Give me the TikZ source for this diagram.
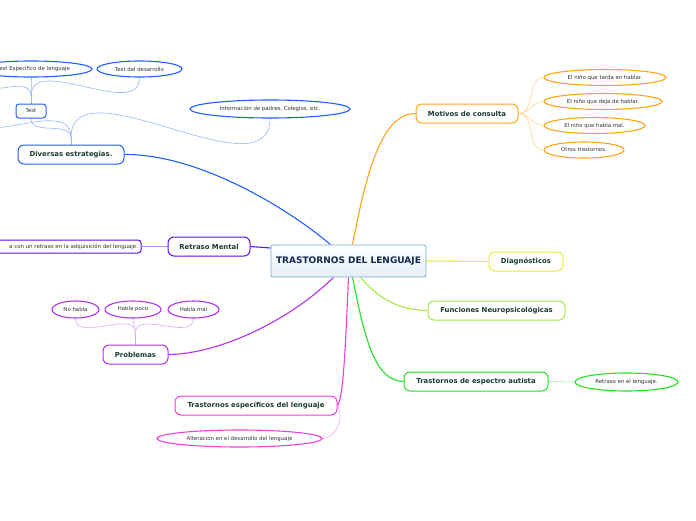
\documentclass[tikz,border=0pt]{standalone}
\usepackage{fontspec}
\setmainfont{DejaVu Sans}
\usetikzlibrary{shapes.geometric,backgrounds}
\definecolor{ctrborder}{HTML}{7AAAD0}
\definecolor{ctrfill}{HTML}{E4EEF8}
\definecolor{ctrtext}{HTML}{14284A}
\definecolor{toptext}{HTML}{1A3A36}
\definecolor{leaftext}{HTML}{333333}
\definecolor{corange}{HTML}{FFA31A}
\definecolor{corangel}{HTML}{FFD490}
\definecolor{cyellow}{HTML}{E8F030}
\definecolor{clgreen}{HTML}{A8E846}
\definecolor{cgreen}{HTML}{22E022}
\definecolor{cgreenl}{HTML}{98F098}
\definecolor{cmag}{HTML}{F040D8}
\definecolor{cmagl}{HTML}{F8A8F0}
\definecolor{cpurple}{HTML}{B030F0}
\definecolor{cpurplel}{HTML}{DCA8F8}
\definecolor{cviolet}{HTML}{5A10F0}
\definecolor{cvioletl}{HTML}{A890F8}
\definecolor{cblue}{HTML}{2060FF}
\definecolor{cbluel}{HTML}{98B4FF}
\begin{document}
\begin{tikzpicture}[x=1pt,y=-1pt,
  topic/.style={draw=#1, rounded corners=6pt, line width=1pt, fill=white,
    font=\fontsize{6.9}{8}\selectfont\bfseries, text=toptext, minimum height=19pt, inner xsep=0pt, inner ysep=0pt},
  leaf/.style={draw=#1, ellipse, line width=1.1pt, fill=white,
    font=\fontsize{5.4}{6}\selectfont, text=leaftext, minimum height=16pt, inner sep=0pt},
  mainline/.style={draw=#1, line width=1.1pt},
  subline/.style={draw=#1, line width=0.6pt}]
\useasboundingbox (0,0) rectangle (696,520);

\coordinate (dj) at (71,138);
\coordinate (tj) at (31,96);
\coordinate (pj) at (135.5,333);
\coordinate (dfree) at (-10,128);
\coordinate (tfree) at (-10,89);

% ---------- nodes ----------
\node[draw=ctrborder, line width=0.8pt, rounded corners=2pt, top color=white, bottom color=ctrfill,
  minimum width=155pt, minimum height=32pt, inner sep=0pt,
  font=\fontsize{9}{10}\selectfont\bfseries, text=ctrtext] (ctr) at (348.5,261) {TRASTORNOS DEL LENGUAJE};

\node[topic=corange, minimum width=102pt] (mot) at (467,113.5) {Motivos de consulta};
\node[leaf=corange, minimum width=122pt] (m1) at (605,77.5) {El niño que tarda en hablar.};
\node[leaf=corange, minimum width=118pt] (m2) at (603,101.5) {El niño que deja de hablar.};
\node[leaf=corange, minimum width=101pt] (m3) at (594.5,125.5) {El niño que habla mal.};
\node[leaf=corange, minimum width=80pt] (m4) at (584,150) {Otros trastornos.};

\node[topic=cyellow, minimum width=74pt] (dia) at (526,261.5) {Diagnósticos};
\node[topic=clgreen, minimum width=137pt] (fun) at (496.5,310.5) {Funciones Neuropsicológicas};
\node[topic=cgreen, minimum width=144pt] (aut) at (476,381.5) {Trastornos de espectro autista};
\node[leaf=cgreen, minimum width=103pt, minimum height=18pt] (ret) at (626.5,382) {Retraso en el lenguaje.};

\node[topic=cmag, minimum width=162pt] (tes) at (256,405.5) {Trastornos específicos del lenguaje};
\node[leaf=cmag, minimum width=165pt, minimum height=17pt] (alt) at (239.5,438.5) {Alteración en el desarrollo del lenguaje};

\node[topic=cpurple, minimum width=65pt] (prob) at (135.5,354.5) {Problemas};
\node[leaf=cpurple, minimum width=47pt, minimum height=17pt] (nh) at (75.5,309.5) {No habla};
\node[leaf=cpurple, minimum width=56pt, minimum height=17pt] (hp) at (133,309.5) {Habla poco};
\node[leaf=cpurple, minimum width=51pt, minimum height=17pt] (hm) at (193.5,309.5) {Habla mal};

\node[topic=cviolet, minimum width=82pt] (rm) at (209,246.5) {Retraso Mental};
\node[draw=cviolet, line width=1pt, rounded corners=3pt, fill=white, minimum height=13pt, inner ysep=0pt,
  text width=174pt, align=right, inner xsep=3pt, font=\fontsize{5.4}{6}\selectfont, text=leaftext]
  (rml) at (51,246.5) {a con un retraso en la adquisición del lenguaje.};

\node[topic=cblue, minimum width=106pt] (div) at (71,154.5) {Diversas estrategias.};
\node[draw=cblue, line width=1pt, rounded corners=3pt, fill=white, minimum width=30pt, minimum height=14pt,
  inner sep=0pt, font=\fontsize{5.4}{6}\selectfont, text=leaftext] (test) at (31,111) {Test};
\node[leaf=cblue, minimum width=160pt, minimum height=18pt] (inf) at (270,109) {Información de padres, Colegios, etc.};
\node[leaf=cblue, minimum width=122pt, text width=78pt, align=right] (tesp) at (31,69) {est Específico de lenguaje};
\node[leaf=cblue, minimum width=85pt] (tdes) at (139.5,69) {Test del desarrollo};

% ---------- connectors ----------
\begin{scope}[on background layer]
\path[mainline=corange] ([xshift=4pt]ctr.north) .. controls (365,180) and (380,113) .. (mot.west);
\path[mainline=cyellow] (ctr.east) -- (dia.west);
\path[mainline=clgreen] ([xshift=12pt]ctr.south) .. controls (380,300) and (400,310) .. (fun.west);
\path[mainline=cgreen] ([xshift=4pt]ctr.south) .. controls (365,340) and (375,381) .. (aut.west);
\path[mainline=cmag] (ctr.south) .. controls (346,330) and (344,398) .. (tes.east);
\path[mainline=cpurple] ([xshift=-15pt]ctr.south) .. controls (290,320) and (220,354) .. (prob.east);
\path[mainline=cviolet] ([yshift=13pt]ctr.west) -- (rm.east);
\path[mainline=cblue] ([xshift=-18pt]ctr.north) .. controls (290,210) and (200,154) .. (div.east);

\path[subline=corangel] (mot.east) to[out=0,in=180] (m1.west);
\path[subline=corangel] (mot.east) to[out=0,in=180] (m2.west);
\path[subline=corangel] (mot.east) to[out=0,in=180] (m3.west);
\path[subline=corangel] (mot.east) to[out=0,in=180] (m4.west);
\path[subline=cgreenl] (aut.east) -- (ret.west);
\path[subline=cmagl] (tes.east) .. controls (345,420) and (335,438) .. (alt.east);
\path[subline=cpurplel] (prob.north) -- (pj);
\path[subline=cpurplel] (pj) to[out=90,in=-90] (nh.south);
\path[subline=cpurplel] (pj) to[out=90,in=-90] (hp.south);
\path[subline=cpurplel] (pj) to[out=90,in=-90] (hm.south);
\path[subline=cvioletl] (rm.west) -- (rml.east);
\path[subline=cbluel] (div.north) -- (dj);
\path[subline=cbluel] (dj) to[out=90,in=-90] (test.south);
\path[subline=cbluel] (dj) to[out=90,in=-90] (inf.south);
\path[subline=cbluel] (dj) to[out=90,in=0] (dfree);
\path[subline=cbluel] (test.north) -- (tj);
\path[subline=cbluel] (tj) to[out=90,in=-90] (tesp.south);
\path[subline=cbluel] (tj) to[out=90,in=-90] (tdes.south);
\path[subline=cbluel] (tj) to[out=90,in=0] (tfree);
\end{scope}
\end{tikzpicture}
\end{document}
